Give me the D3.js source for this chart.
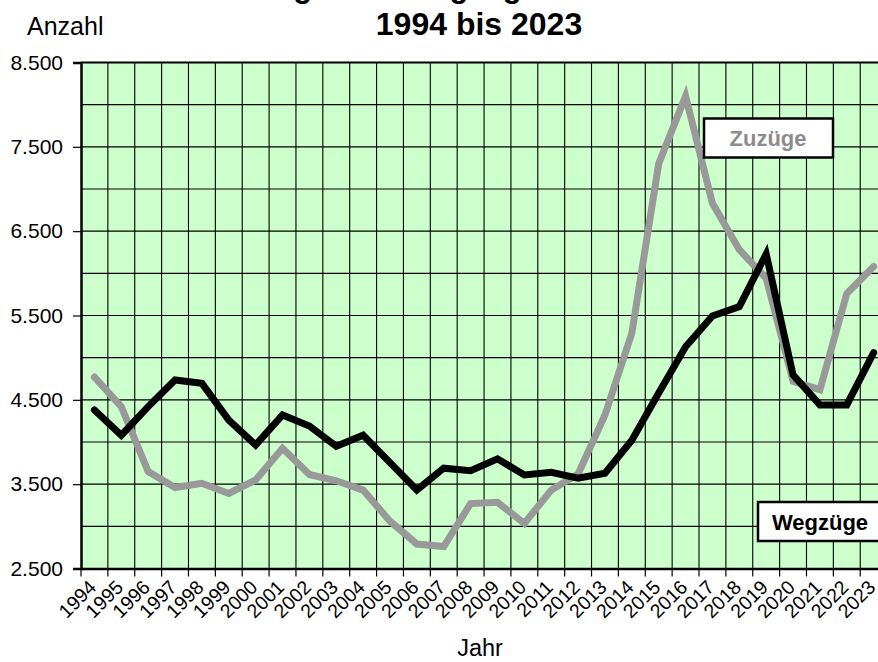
<!DOCTYPE html>
<html>
<head>
<meta charset="utf-8">
<script src="https://cdn.jsdelivr.net/npm/d3@7"></script>
<style>
  html, body { margin: 0; padding: 0; background: #fff; overflow: hidden; }
  svg { display: block; font-family: "Liberation Sans", Arial, sans-serif; }
</style>
</head>
<body>
<svg id="chart" width="878" height="662"></svg>
<script>
const years = ["1994","1995","1996","1997","1998","1999","2000","2001","2002","2003",
  "2004","2005","2006","2007","2008","2009","2010","2011","2012","2013",
  "2014","2015","2016","2017","2018","2019","2020","2021","2022","2023"];
const zuzuege = [4770,4420,3650,3460,3510,3390,3550,3925,3615,3540,
  3430,3060,2790,2760,3270,3285,3035,3430,3620,4320,
  5290,7300,8100,6830,6280,5940,4720,4620,5760,6080];
const wegzuege = [4380,4080,4420,4735,4695,4260,3965,4320,4190,3950,
  4080,3755,3430,3690,3660,3800,3610,3640,3570,3630,
  4020,4580,5130,5495,5605,6230,4795,4440,4440,5060];
const yTicks = [2500,3500,4500,5500,6500,7500,8500];
const yGrid = [3000,3500,4000,4500,5000,5500,6000,6500,7000,7500,8000];

(function draw() {
const svg = d3.select("#chart");
const pL = 81, pT = 62.5, pB = 568.5, bandW = 26.87;
const pR = pL + bandW * years.length;

const x = d3.scaleBand().domain(years).range([pL, pR]).padding(0);
const y = d3.scaleLinear().domain([2500, 8500]).range([pB, pT]);
const cx = d => x(d) + x.bandwidth() / 2;

svg.append("rect").attr("x", pL).attr("y", pT)
  .attr("width", pR - pL).attr("height", pB - pT)
  .attr("fill", "#ccffcc");

svg.append("g").selectAll("line").data(yGrid).join("line")
  .attr("x1", pL).attr("x2", pR)
  .attr("y1", d => y(d)).attr("y2", d => y(d))
  .attr("stroke", "#000").attr("stroke-width", 1.1);

svg.append("g").selectAll("line").data(years.slice(1)).join("line")
  .attr("x1", d => x(d)).attr("x2", d => x(d))
  .attr("y1", pT).attr("y2", pB)
  .attr("stroke", "#000").attr("stroke-width", 1.1);

svg.append("line").attr("x1", pL).attr("x2", pR).attr("y1", pT).attr("y2", pT)
  .attr("stroke", "#000").attr("stroke-width", 2);
svg.append("line").attr("x1", pR).attr("x2", pR).attr("y1", pT).attr("y2", pB)
  .attr("stroke", "#000").attr("stroke-width", 2);

const yAxis = d3.axisLeft(y).tickValues(yTicks).tickSize(8).tickPadding(10)
  .tickFormat(d => d3.format(",")(d).replace(/,/g, "."));
const gy = svg.append("g").attr("transform", `translate(${pL},0)`).call(yAxis);
gy.select(".domain").attr("stroke", "#000").attr("stroke-width", 2.5);
gy.selectAll(".tick line").attr("stroke", "#000").attr("stroke-width", 1.2);
gy.selectAll(".tick text").attr("font-size", 21).attr("fill", "#000")
  .attr("font-family", "Liberation Sans, Arial, sans-serif");

const xAxis = d3.axisBottom(x).tickSize(0).tickFormat(d => d);
const gx = svg.append("g").attr("transform", `translate(0,${pB})`).call(xAxis);
gx.select(".domain").attr("stroke", "#000").attr("stroke-width", 2.5);
gx.selectAll(".tick text")
  .attr("font-size", 19.5).attr("fill", "#000")
  .attr("font-family", "Liberation Sans, Arial, sans-serif")
  .attr("text-anchor", "end")
  .attr("dy", 0).attr("y", 0)
  .attr("transform", "translate(3,20) rotate(-45)");
svg.append("g").selectAll("line").data(years).join("line")
  .attr("x1", d => x(d)).attr("x2", d => x(d))
  .attr("y1", pB).attr("y2", pB + 8)
  .attr("stroke", "#000").attr("stroke-width", 1.2);

const line = d3.line().x((d, i) => cx(years[i])).y(d => y(d));
svg.append("path").datum(zuzuege).attr("d", line)
  .attr("fill", "none").attr("stroke", "#999999").attr("stroke-width", 7)
  .attr("stroke-linejoin", "miter").attr("stroke-linecap", "round");
svg.append("path").datum(wegzuege).attr("d", line)
  .attr("fill", "none").attr("stroke", "#000").attr("stroke-width", 7)
  .attr("stroke-linejoin", "miter").attr("stroke-linecap", "round");

function labelBox(bx, by, bw, bh, txt, color, tx) {
  svg.append("rect").attr("x", bx).attr("y", by).attr("width", bw).attr("height", bh)
    .attr("fill", "#fff").attr("stroke", "#000").attr("stroke-width", 2.5);
  svg.append("text").attr("x", tx).attr("y", by + bh / 2 + 8)
    .attr("text-anchor", "middle").attr("font-size", 22).attr("font-weight", "bold")
    .attr("fill", color).text(txt);
}
labelBox(704, 118.5, 129, 39, "Zuzüge", "#8c8c8c", 768);
labelBox(758, 502, 130, 39, "Wegzüge", "#000", 820);

svg.append("text").attr("x", 221).attr("y", -3).attr("text-anchor", "start")
  .attr("font-size", 31).attr("font-weight", "bold").text("Zuzüge und Wegzüge");
svg.append("text").attr("x", 479).attr("y", 34.5).attr("text-anchor", "middle")
  .attr("font-size", 32).attr("font-weight", "bold").text("1994 bis 2023");
svg.append("text").attr("x", 27).attr("y", 34.5).attr("text-anchor", "start")
  .attr("font-size", 25).text("Anzahl");
svg.append("text").attr("x", 480).attr("y", 656).attr("text-anchor", "middle")
  .attr("font-size", 23.5).text("Jahr");
})();
</script>
</body>
</html>
